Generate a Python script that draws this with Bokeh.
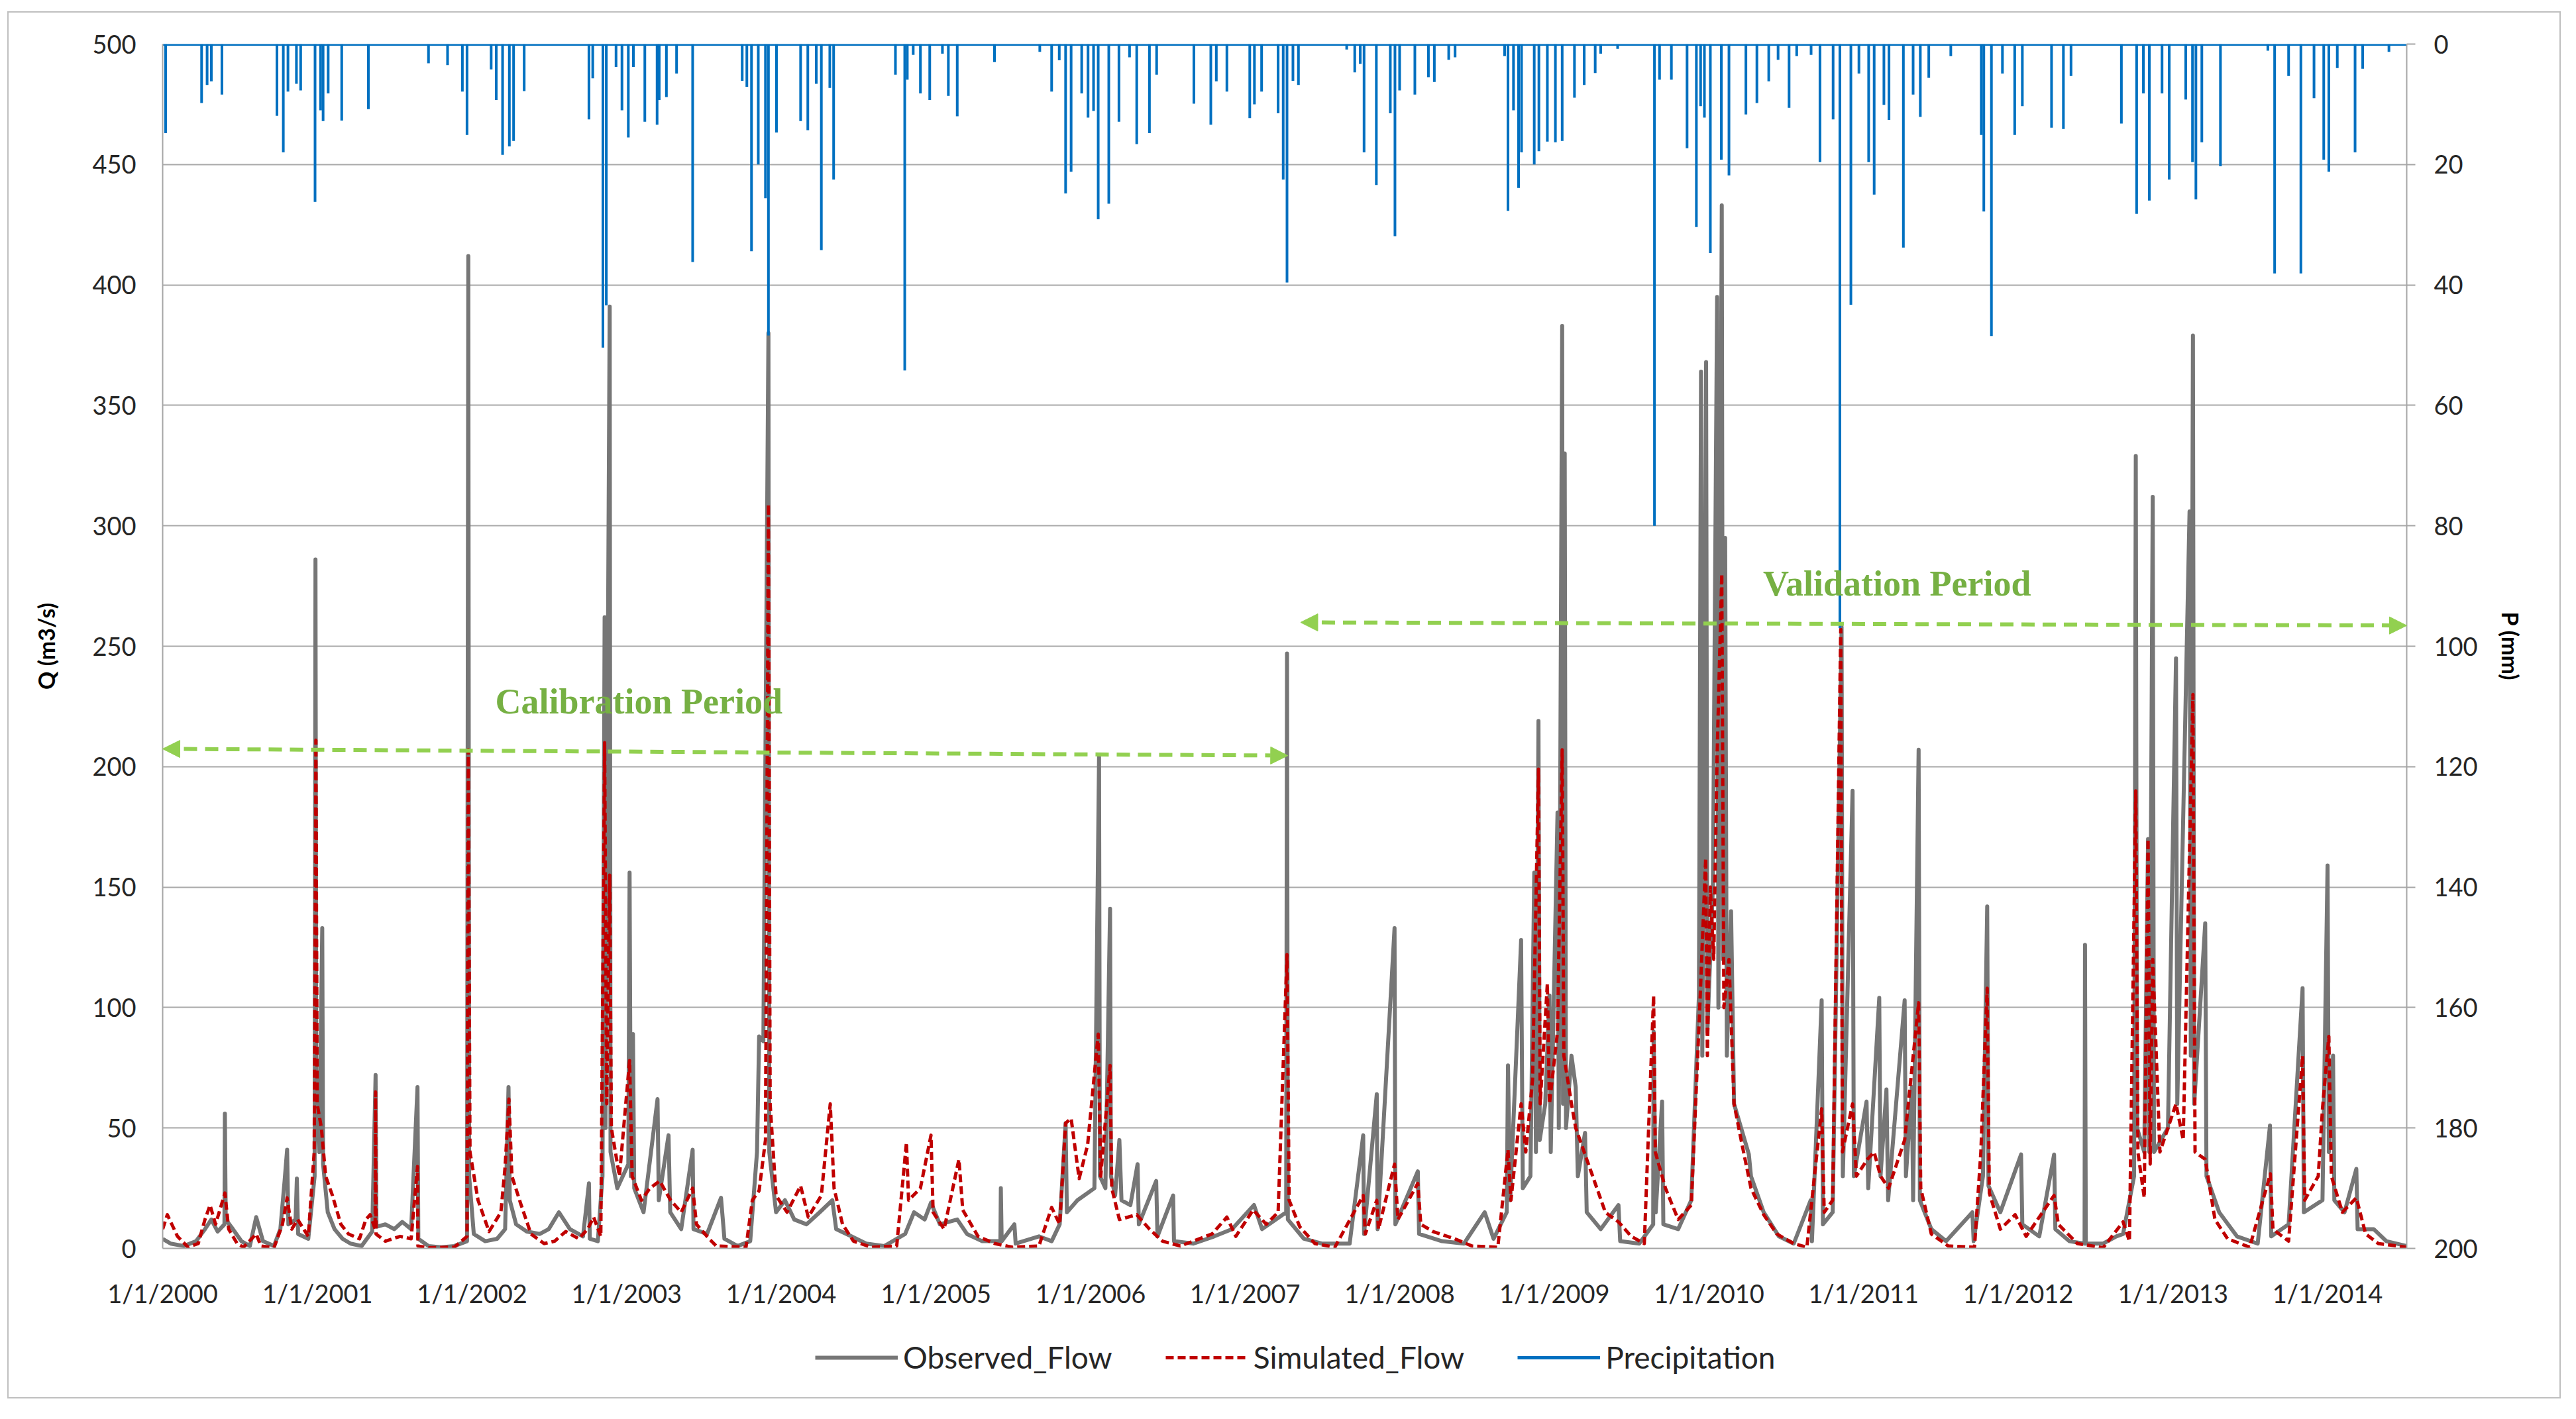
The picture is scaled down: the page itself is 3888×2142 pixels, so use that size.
import pandas as pd
from bokeh.plotting import figure
from bokeh.layouts import column
from bokeh.models import (Range1d, LinearAxis, FixedTicker, Legend, LegendItem,
                          Label, Arrow, NormalHead, ColumnDataSource)
from bokeh.embed import file_html
from bokeh.resources import INLINE

# ---------------- data ----------------
year_labels = ["1/1/2000", "1/1/2001", "1/1/2002", "1/1/2003", "1/1/2004",
               "1/1/2005", "1/1/2006", "1/1/2007", "1/1/2008", "1/1/2009",
               "1/1/2010", "1/1/2011", "1/1/2012", "1/1/2013", "1/1/2014"]
q_ticks = [0, 50, 100, 150, 200, 250, 300, 350, 400, 450, 500]
p_ticks = [0, 20, 40, 60, 80, 100, 120, 140, 160, 180, 200]
series_names = ["Observed_Flow", "Simulated_Flow", "Precipitation"]

observed_flow = [
    ("2000-01-01", 4), ("2000-01-20", 2), ("2000-02-20", 1), ("2000-03-20", 3), ("2000-04-10", 8),
    ("2000-04-25", 12), ("2000-05-10", 7), ("2000-05-26", 10), ("2000-05-27", 56), ("2000-05-29", 12),
    ("2000-06-15", 8), ("2000-07-05", 3), ("2000-07-25", 1), ("2000-08-09", 13), ("2000-08-25", 3),
    ("2000-09-20", 1), ("2000-10-05", 8), ("2000-10-15", 28), ("2000-10-21", 41), ("2000-10-24", 10),
    ("2000-11-10", 12), ("2000-11-13", 29), ("2000-11-16", 6), ("2000-12-10", 4), ("2000-12-25", 30),
    ("2000-12-27", 286), ("2000-12-29", 60), ("2001-01-05", 40), ("2001-01-12", 133), ("2001-01-14", 35),
    ("2001-01-25", 15), ("2001-02-10", 8), ("2001-03-01", 4), ("2001-03-20", 2), ("2001-04-15", 1),
    ("2001-05-10", 7), ("2001-05-18", 72), ("2001-05-20", 9), ("2001-06-10", 10), ("2001-07-01", 8),
    ("2001-07-20", 11), ("2001-08-10", 8), ("2001-08-25", 67), ("2001-08-27", 4), ("2001-09-20", 1),
    ("2001-10-20", 0.5), ("2001-11-20", 1), ("2001-12-20", 3), ("2001-12-23", 412), ("2001-12-25", 30),
    ("2002-01-05", 6), ("2002-02-01", 3), ("2002-03-01", 4), ("2002-03-20", 8), ("2002-03-28", 67),
    ("2002-03-31", 20), ("2002-04-15", 10), ("2002-05-10", 7), ("2002-06-10", 6), ("2002-07-01", 8),
    ("2002-07-25", 15), ("2002-08-20", 8), ("2002-09-20", 5), ("2002-10-04", 27), ("2002-10-06", 4),
    ("2002-10-25", 3), ("2002-11-05", 30), ("2002-11-10", 262), ("2002-11-12", 50), ("2002-11-22", 391),
    ("2002-11-24", 40), ("2002-12-10", 25), ("2003-01-05", 35), ("2003-01-08", 156), ("2003-01-11", 30),
    ("2003-01-16", 89), ("2003-01-19", 25), ("2003-02-10", 15), ("2003-03-15", 62), ("2003-03-18", 20),
    ("2003-04-10", 47), ("2003-04-14", 15), ("2003-05-10", 8), ("2003-06-06", 41), ("2003-06-08", 8),
    ("2003-07-10", 6), ("2003-08-12", 21), ("2003-08-20", 4), ("2003-09-20", 1), ("2003-10-20", 3),
    ("2003-11-05", 40), ("2003-11-10", 88), ("2003-11-20", 86), ("2003-12-02", 380), ("2003-12-04", 40),
    ("2003-12-20", 15), ("2004-01-10", 20), ("2004-02-01", 12), ("2004-03-01", 10), ("2004-04-01", 15),
    ("2004-05-01", 20), ("2004-05-10", 8), ("2004-06-15", 5), ("2004-07-20", 2), ("2004-09-01", 1),
    ("2004-10-20", 6), ("2004-11-10", 15), ("2004-12-05", 12), ("2004-12-20", 19), ("2005-01-10", 10),
    ("2005-02-20", 12), ("2005-03-15", 6), ("2005-04-20", 3), ("2005-06-02", 3), ("2005-06-03", 25),
    ("2005-06-05", 3), ("2005-07-05", 10), ("2005-07-08", 2), ("2005-09-01", 5), ("2005-10-01", 3),
    ("2005-10-20", 10), ("2005-11-03", 52), ("2005-11-06", 15), ("2005-12-01", 20), ("2006-01-10", 25),
    ("2006-01-21", 204), ("2006-01-23", 30), ("2006-02-05", 25), ("2006-02-16", 141), ("2006-02-18", 30),
    ("2006-02-28", 22), ("2006-03-10", 45), ("2006-03-15", 20), ("2006-04-05", 18), ("2006-04-22", 35),
    ("2006-04-25", 10), ("2006-06-05", 28), ("2006-06-08", 5), ("2006-07-15", 22), ("2006-07-17", 3),
    ("2006-09-01", 2), ("2006-10-20", 5), ("2006-12-01", 8), ("2007-01-22", 18), ("2007-02-10", 8),
    ("2007-04-08", 15), ("2007-04-10", 247), ("2007-04-12", 12), ("2007-05-20", 4), ("2007-07-01", 2),
    ("2007-09-05", 2), ("2007-10-07", 47), ("2007-10-09", 6), ("2007-11-08", 64), ("2007-11-10", 8),
    ("2007-12-20", 133), ("2007-12-22", 10), ("2008-02-13", 32), ("2008-02-16", 6), ("2008-04-10", 3),
    ("2008-06-01", 2), ("2008-07-20", 15), ("2008-08-10", 4), ("2008-09-10", 15), ("2008-09-13", 76),
    ("2008-09-18", 20), ("2008-10-14", 128), ("2008-10-18", 25), ("2008-11-05", 30), ("2008-11-14", 156),
    ("2008-11-18", 40), ("2008-11-24", 219), ("2008-11-27", 45), ("2008-12-10", 60), ("2008-12-20", 105),
    ("2008-12-23", 40), ("2009-01-08", 181), ("2009-01-11", 50), ("2009-01-19", 383), ("2009-01-21", 60),
    ("2009-01-25", 330), ("2009-01-28", 50), ("2009-02-10", 80), ("2009-02-20", 67), ("2009-02-25", 30),
    ("2009-03-14", 48), ("2009-03-18", 15), ("2009-04-20", 8), ("2009-06-01", 18), ("2009-06-05", 3),
    ("2009-07-20", 2), ("2009-08-22", 10), ("2009-08-23", 90), ("2009-08-28", 15), ("2009-09-12", 61),
    ("2009-09-15", 10), ("2009-10-20", 8), ("2009-11-20", 20), ("2009-12-08", 105), ("2009-12-13", 364),
    ("2009-12-16", 80), ("2009-12-25", 368), ("2009-12-28", 90), ("2010-01-10", 150), ("2010-01-20", 395),
    ("2010-01-23", 100), ("2010-01-31", 433), ("2010-02-03", 120), ("2010-02-08", 295), ("2010-02-12", 80),
    ("2010-02-22", 140), ("2010-03-01", 60), ("2010-04-05", 39), ("2010-04-10", 30), ("2010-05-10", 15),
    ("2010-06-15", 5), ("2010-07-20", 2), ("2010-08-29", 20), ("2010-09-01", 3), ("2010-09-24", 103),
    ("2010-09-27", 10), ("2010-10-20", 15), ("2010-11-10", 258), ("2010-11-13", 30), ("2010-12-06", 190),
    ("2010-12-09", 30), ("2011-01-08", 61), ("2011-01-12", 25), ("2011-02-07", 104), ("2011-02-10", 30),
    ("2011-02-24", 66), ("2011-02-28", 20), ("2011-04-08", 103), ("2011-04-11", 30), ("2011-04-25", 67),
    ("2011-04-28", 20), ("2011-05-11", 207), ("2011-05-14", 20), ("2011-06-10", 8), ("2011-07-15", 3),
    ("2011-09-15", 15), ("2011-09-18", 3), ("2011-10-10", 30), ("2011-10-20", 142), ("2011-10-23", 26),
    ("2011-11-20", 15), ("2012-01-08", 39), ("2012-01-11", 10), ("2012-02-20", 5), ("2012-03-26", 39),
    ("2012-03-29", 8), ("2012-05-01", 3), ("2012-06-06", 2), ("2012-06-07", 126), ("2012-06-09", 2),
    ("2012-07-20", 2), ("2012-08-20", 5), ("2012-09-05", 6), ("2012-10-01", 30), ("2012-10-05", 329),
    ("2012-10-08", 50), ("2012-10-25", 40), ("2012-11-03", 170), ("2012-11-06", 40), ("2012-11-14", 312),
    ("2012-11-17", 40), ("2012-12-20", 50), ("2013-01-08", 245), ("2013-01-11", 60), ("2013-02-09", 306),
    ("2013-02-12", 80), ("2013-02-17", 379), ("2013-02-20", 60), ("2013-03-18", 135), ("2013-03-21", 30),
    ("2013-04-20", 15), ("2013-06-01", 5), ("2013-07-20", 2), ("2013-08-18", 51), ("2013-08-21", 5),
    ("2013-10-01", 10), ("2013-11-03", 108), ("2013-11-06", 15), ("2013-12-20", 20), ("2014-01-01", 159),
    ("2014-01-04", 40), ("2014-01-14", 80), ("2014-01-17", 20), ("2014-02-10", 15), ("2014-03-10", 33),
    ("2014-03-13", 8), ("2014-04-20", 8), ("2014-05-20", 3), ("2014-07-07", 1),
]

simulated_flow = [
    ("2000-01-01", 8), ("2000-01-12", 14), ("2000-02-05", 5), ("2000-03-01", 0.5), ("2000-03-25", 2),
    ("2000-04-10", 12), ("2000-04-22", 18), ("2000-05-05", 10), ("2000-05-27", 23), ("2000-06-05", 8),
    ("2000-06-25", 2), ("2000-07-10", 0.5), ("2000-08-09", 6), ("2000-08-20", 1), ("2000-09-20", 0.3),
    ("2000-10-10", 10), ("2000-10-21", 21), ("2000-11-01", 8), ("2000-11-15", 12), ("2000-12-10", 5),
    ("2000-12-24", 40), ("2000-12-28", 211), ("2000-12-31", 60), ("2001-01-10", 50), ("2001-01-20", 30),
    ("2001-02-05", 22), ("2001-02-25", 10), ("2001-03-15", 6), ("2001-04-10", 4), ("2001-04-25", 12),
    ("2001-05-05", 14), ("2001-05-17", 8), ("2001-05-18", 65), ("2001-05-19", 6), ("2001-06-10", 3),
    ("2001-07-15", 5), ("2001-08-10", 4), ("2001-08-25", 34), ("2001-08-26", 1), ("2001-09-20", 0.3),
    ("2001-11-20", 0.5), ("2001-12-20", 5), ("2001-12-23", 207), ("2001-12-27", 40), ("2002-01-15", 20),
    ("2002-02-10", 7), ("2002-03-10", 15), ("2002-03-20", 34), ("2002-03-29", 62), ("2002-04-05", 30),
    ("2002-04-25", 19), ("2002-05-20", 6), ("2002-06-20", 2), ("2002-07-15", 3), ("2002-08-10", 7),
    ("2002-09-10", 4), ("2002-10-01", 8), ("2002-10-15", 13), ("2002-11-01", 5), ("2002-11-10", 210),
    ("2002-11-15", 60), ("2002-11-22", 155), ("2002-11-26", 50), ("2002-12-15", 30), ("2003-01-08", 78),
    ("2003-01-14", 30), ("2003-02-05", 20), ("2003-02-25", 25), ("2003-03-20", 28), ("2003-04-15", 20),
    ("2003-05-10", 15), ("2003-06-06", 25), ("2003-06-15", 10), ("2003-07-15", 4), ("2003-08-01", 1),
    ("2003-10-10", 0.5), ("2003-10-25", 20), ("2003-11-10", 24), ("2003-11-25", 45), ("2003-12-02", 309),
    ("2003-12-06", 60), ("2003-12-20", 22), ("2004-01-15", 15), ("2004-02-16", 26), ("2004-03-05", 13),
    ("2004-04-05", 22), ("2004-04-26", 60), ("2004-05-05", 25), ("2004-05-25", 10), ("2004-06-20", 3),
    ("2004-08-01", 0.5), ("2004-09-30", 1), ("2004-10-23", 44), ("2004-10-28", 20), ("2004-11-25", 25),
    ("2004-12-20", 47), ("2004-12-25", 15), ("2005-01-20", 8), ("2005-02-24", 37), ("2005-03-05", 16),
    ("2005-04-10", 5), ("2005-05-20", 2), ("2005-07-01", 0.5), ("2005-09-01", 1), ("2005-10-01", 17),
    ("2005-10-20", 10), ("2005-11-03", 52), ("2005-11-16", 54), ("2005-12-05", 29), ("2005-12-25", 43),
    ("2006-01-19", 89), ("2006-01-25", 30), ("2006-02-16", 76), ("2006-02-20", 25), ("2006-03-10", 12),
    ("2006-04-20", 14), ("2006-05-20", 8), ("2006-06-20", 3), ("2006-08-01", 1), ("2006-10-15", 6),
    ("2006-11-19", 13), ("2006-12-10", 5), ("2007-01-20", 16), ("2007-02-20", 10), ("2007-03-20", 15),
    ("2007-04-10", 122), ("2007-04-15", 20), ("2007-05-10", 9), ("2007-06-15", 2), ("2007-08-01", 0.5),
    ("2007-10-07", 22), ("2007-10-12", 6), ("2007-11-08", 20), ("2007-11-12", 8), ("2007-12-20", 35),
    ("2007-12-28", 12), ("2008-02-13", 27), ("2008-02-20", 10), ("2008-03-20", 7), ("2008-05-10", 4),
    ("2008-06-20", 1), ("2008-08-20", 0.5), ("2008-09-13", 41), ("2008-09-20", 20), ("2008-10-14", 60),
    ("2008-10-25", 40), ("2008-11-10", 70), ("2008-11-24", 199), ("2008-11-28", 60), ("2008-12-15", 110),
    ("2008-12-20", 60), ("2009-01-08", 90), ("2009-01-19", 207), ("2009-01-23", 80), ("2009-02-10", 60),
    ("2009-02-20", 50), ("2009-03-14", 39), ("2009-04-01", 30), ("2009-05-01", 15), ("2009-06-01", 11),
    ("2009-07-01", 5), ("2009-08-01", 2), ("2009-08-23", 105), ("2009-08-27", 40), ("2009-09-20", 25),
    ("2009-10-20", 12), ("2009-11-20", 18), ("2009-12-10", 100), ("2009-12-24", 162), ("2009-12-28", 80),
    ("2010-01-04", 150), ("2010-01-12", 120), ("2010-01-20", 205), ("2010-01-31", 280), ("2010-02-05", 100),
    ("2010-02-17", 120), ("2010-03-01", 60), ("2010-03-20", 43), ("2010-04-10", 25), ("2010-05-10", 14),
    ("2010-06-10", 6), ("2010-07-20", 2), ("2010-08-20", 0.5), ("2010-09-24", 58), ("2010-09-30", 15),
    ("2010-10-20", 20), ("2010-11-08", 257), ("2010-11-12", 40), ("2010-12-06", 60), ("2010-12-15", 30),
    ("2011-01-10", 37), ("2011-01-26", 40), ("2011-02-10", 30), ("2011-03-01", 25), ("2011-04-08", 45),
    ("2011-05-11", 102), ("2011-05-16", 25), ("2011-06-10", 6), ("2011-07-20", 1), ("2011-09-20", 0.5),
    ("2011-10-05", 40), ("2011-10-20", 108), ("2011-10-25", 23), ("2011-11-20", 8), ("2011-12-25", 14),
    ("2012-01-20", 5), ("2012-03-26", 22), ("2012-04-05", 10), ("2012-05-20", 2), ("2012-07-20", 0.3),
    ("2012-09-05", 11), ("2012-09-20", 3), ("2012-10-05", 190), ("2012-10-10", 40), ("2012-10-25", 21),
    ("2012-11-03", 170), ("2012-11-08", 35), ("2012-11-14", 120), ("2012-12-01", 40), ("2013-01-08", 60),
    ("2013-01-25", 45), ("2013-02-17", 230), ("2013-02-22", 40), ("2013-03-18", 37), ("2013-04-10", 12),
    ("2013-05-10", 4), ("2013-07-01", 0.5), ("2013-08-19", 31), ("2013-08-25", 8), ("2013-10-01", 3),
    ("2013-11-03", 80), ("2013-11-08", 20), ("2013-12-10", 30), ("2013-12-20", 58), ("2014-01-04", 88),
    ("2014-01-10", 30), ("2014-02-05", 15), ("2014-03-10", 21), ("2014-04-01", 6), ("2014-05-01", 2),
    ("2014-07-07", 0.5),
]

precipitation = [
    ("2000-01-08", 14.8), ("2000-04-02", 9.8), ("2000-04-15", 6.8), ("2000-04-25", 6.2), ("2000-05-20", 8.4),
    ("2000-09-27", 11.9), ("2000-10-12", 18.0), ("2000-10-23", 7.9), ("2000-11-12", 6.6), ("2000-11-22", 7.7),
    ("2000-12-26", 26.2), ("2001-01-08", 11.0), ("2001-01-14", 12.8), ("2001-01-26", 8.2), ("2001-02-27", 12.7),
    ("2001-05-01", 10.8), ("2001-09-20", 3.2), ("2001-11-04", 3.5), ("2001-12-09", 7.9), ("2001-12-20", 15.1),
    ("2002-02-15", 4.2), ("2002-02-27", 9.3), ("2002-03-14", 18.4), ("2002-03-30", 17.0), ("2002-04-09", 16.1),
    ("2002-05-04", 7.8), ("2002-10-04", 12.5), ("2002-10-13", 5.7), ("2002-11-06", 50.4), ("2002-11-14", 43.4),
    ("2002-12-07", 3.8), ("2002-12-21", 11.0), ("2003-01-05", 15.5), ("2003-01-17", 3.8), ("2003-02-13", 12.9),
    ("2003-03-14", 13.4), ("2003-03-19", 9.3), ("2003-04-05", 8.8), ("2003-04-29", 4.9), ("2003-06-06", 36.2),
    ("2003-10-01", 6.1), ("2003-10-12", 7.1), ("2003-10-23", 34.4), ("2003-11-08", 20.0), ("2003-11-25", 25.6),
    ("2003-12-02", 48.4), ("2003-12-21", 14.7), ("2004-02-16", 12.8), ("2004-03-04", 14.3), ("2004-03-24", 6.6),
    ("2004-04-05", 34.2), ("2004-04-25", 7.3), ("2004-05-04", 22.5), ("2004-09-27", 5.1), ("2004-10-19", 54.2),
    ("2004-10-25", 5.9), ("2004-11-08", 1.8), ("2004-11-25", 8.2), ("2004-12-17", 9.3), ("2005-01-16", 1.6),
    ("2005-01-30", 8.6), ("2005-02-20", 12.0), ("2005-05-19", 3.0), ("2005-09-03", 1.3), ("2005-10-01", 7.9),
    ("2005-10-19", 2.7), ("2005-11-03", 24.8), ("2005-11-16", 21.2), ("2005-12-11", 8.2), ("2005-12-26", 12.2),
    ("2006-01-08", 11.1), ("2006-01-19", 29.1), ("2006-02-13", 26.5), ("2006-03-09", 12.9), ("2006-04-03", 2.2),
    ("2006-04-20", 16.6), ("2006-05-20", 14.8), ("2006-06-06", 5.1), ("2006-09-02", 9.9), ("2006-10-12", 13.4),
    ("2006-10-25", 6.2), ("2006-11-19", 7.9), ("2007-01-12", 12.3), ("2007-01-23", 10.0), ("2007-02-09", 7.9),
    ("2007-03-20", 11.5), ("2007-04-01", 22.5), ("2007-04-10", 39.6), ("2007-04-24", 6.1), ("2007-05-07", 6.8),
    ("2007-08-29", 0.9), ("2007-09-17", 4.7), ("2007-09-30", 3.3), ("2007-10-09", 18.0), ("2007-11-07", 23.4),
    ("2007-12-10", 11.5), ("2007-12-21", 31.9), ("2008-01-01", 7.7), ("2008-02-06", 8.4), ("2008-03-09", 5.5),
    ("2008-03-23", 6.3), ("2008-04-26", 2.6), ("2008-05-11", 2.2), ("2008-09-05", 2.0), ("2008-09-13", 27.7),
    ("2008-09-26", 11.0), ("2008-10-08", 23.9), ("2008-10-15", 18.0), ("2008-11-14", 20.0), ("2008-11-25", 17.8),
    ("2008-12-15", 16.2), ("2009-01-03", 16.3), ("2009-01-19", 16.1), ("2009-02-17", 8.9), ("2009-03-12", 6.8),
    ("2009-04-07", 4.8), ("2009-04-20", 1.6), ("2009-05-30", 0.8), ("2009-08-25", 80.0), ("2009-09-06", 5.9),
    ("2009-10-04", 5.9), ("2009-11-10", 17.3), ("2009-12-02", 30.4), ("2009-12-12", 10.3), ("2009-12-21", 12.2),
    ("2010-01-04", 34.7), ("2010-01-30", 19.2), ("2010-02-17", 21.8), ("2010-03-29", 11.7), ("2010-04-24", 9.8),
    ("2010-05-22", 6.2), ("2010-06-13", 2.6), ("2010-07-09", 10.6), ("2010-07-27", 2.0), ("2010-08-30", 1.8),
    ("2010-09-20", 19.6), ("2010-10-21", 12.5), ("2010-11-06", 97.0), ("2010-12-02", 43.3), ("2010-12-21", 4.9),
    ("2011-01-13", 19.6), ("2011-01-26", 25.0), ("2011-02-18", 10.1), ("2011-03-02", 12.6), ("2011-04-05", 33.8),
    ("2011-04-28", 8.4), ("2011-05-15", 12.1), ("2011-06-04", 5.6), ("2011-07-26", 2.0), ("2011-10-06", 15.1),
    ("2011-10-12", 27.8), ("2011-10-30", 48.5), ("2011-11-25", 4.9), ("2011-12-24", 15.1), ("2012-01-11", 10.3),
    ("2012-03-20", 13.9), ("2012-04-17", 14.1), ("2012-05-05", 5.3), ("2012-09-01", 13.2), ("2012-10-07", 28.2),
    ("2012-10-23", 8.2), ("2012-11-06", 26.0), ("2012-12-06", 8.2), ("2012-12-23", 22.5), ("2013-01-31", 9.2),
    ("2013-02-16", 19.6), ("2013-02-24", 25.8), ("2013-03-10", 16.3), ("2013-04-23", 20.3), ("2013-08-13", 1.1),
    ("2013-08-29", 38.1), ("2013-10-01", 5.3), ("2013-10-30", 38.1), ("2013-11-30", 9.0), ("2013-12-23", 19.2),
    ("2014-01-04", 21.2), ("2014-01-24", 4.0), ("2014-03-07", 18.0), ("2014-03-25", 4.1), ("2014-05-26", 1.3),
]

calibration_arrow = [("2000-01-01", 207.4), ("2007-04-12", 204.6)]
validation_arrow = [("2007-05-12", 259.9), ("2014-07-07", 258.6)]
calibration_label = ("Calibration Period", "2003-01-30", 227)
validation_label = ("Validation Period", "2011-03-21", 276)

# ---------------- styling ----------------
GRAY = "#767676"
RED = "#C00000"
BLUE = "#0070C0"
GREEN_ARROW = "#92D050"
GREEN_TEXT = "#76B043"
GRID = "#A9A9A9"
AXIS = "#A6A6A6"
FONT = "Lato"


def ms(d):
    return pd.Timestamp(d).value / 1e6


obs_src = ColumnDataSource(dict(x=pd.to_datetime([d for d, _ in observed_flow]),
                                y=[v for _, v in observed_flow]))
sim_src = ColumnDataSource(dict(x=pd.to_datetime([d for d, _ in simulated_flow]),
                                y=[v for _, v in simulated_flow]))
pr_x = pd.to_datetime([d for d, _ in precipitation])
pr_src = ColumnDataSource(dict(x=pr_x, y0=[0] * len(precipitation),
                               y1=[v for _, v in precipitation]))

x_start = obs_src.data["x"].min()
x_end = obs_src.data["x"].max()
base_src = ColumnDataSource(dict(x=[x_start, x_end], y=[0, 0]))

p = figure(frame_width=3387, frame_height=1818, x_axis_type="datetime",
           x_range=Range1d(x_start, x_end), y_range=Range1d(0, 500),
           output_backend="svg", toolbar_location=None,
           min_border_left=232, min_border_right=231,
           min_border_top=47, min_border_bottom=110)
p.outline_line_color = None
p.background_fill_color = "white"
p.border_fill_color = "white"

# grid
p.xgrid.grid_line_color = None
p.ygrid.grid_line_color = GRID
p.ygrid.grid_line_width = 2
p.ygrid.ticker = FixedTicker(ticks=q_ticks)

# x axis
xa = p.xaxis[0]
year_ms = [int(ms(pd.to_datetime(s, format="%m/%d/%Y"))) for s in year_labels]
xa.ticker = FixedTicker(ticks=year_ms)
xa.major_label_overrides = {t: s for t, s in zip(year_ms, year_labels)}
xa.major_tick_line_color = None
xa.minor_tick_line_color = None
xa.axis_line_color = AXIS
xa.axis_line_width = 2
xa.major_label_text_font = FONT
xa.major_label_text_font_size = "38px"
xa.major_label_text_color = "#262626"
xa.major_label_standoff = 38

# left y axis
ya = p.yaxis[0]
ya.ticker = FixedTicker(ticks=q_ticks)
ya.major_tick_line_color = None
ya.minor_tick_line_color = None
ya.axis_line_color = AXIS
ya.axis_line_width = 2
ya.major_label_text_font = FONT
ya.major_label_text_font_size = "38px"
ya.major_label_text_color = "#262626"
ya.major_label_standoff = 34
ya.axis_label = "Q (m3/s)"
ya.axis_label_text_font = FONT
ya.axis_label_text_font_size = "34px"
ya.axis_label_text_font_style = "bold"
ya.axis_label_text_color = "#000000"
ya.axis_label_standoff = 46

# right y axis (precipitation, inverted)
p.extra_y_ranges = {"p": Range1d(200, 0)}
ra = LinearAxis(y_range_name="p", ticker=FixedTicker(ticks=p_ticks))
ra.major_tick_out = 13
ra.major_tick_in = 0
ra.major_tick_line_color = AXIS
ra.major_tick_line_width = 2
ra.minor_tick_line_color = None
ra.axis_line_color = AXIS
ra.axis_line_width = 2
ra.major_label_text_font = FONT
ra.major_label_text_font_size = "38px"
ra.major_label_text_color = "#262626"
ra.major_label_standoff = 28
ra.axis_label = "P (mm)"
ra.axis_label_text_font = FONT
ra.axis_label_text_font_size = "34px"
ra.axis_label_text_font_style = "bold"
ra.axis_label_text_color = "#000000"
ra.axis_label_standoff = 26
p.add_layout(ra, "right")

# series
p.line("x", "y", source=obs_src, line_color=GRAY, line_width=6, line_join="round")
p.line("x", "y", source=sim_src, line_color=RED, line_width=5,
       line_dash="12 6", line_join="round")
p.line("x", "y", source=base_src, y_range_name="p", line_color=BLUE, line_width=5)
p.segment(x0="x", y0="y0", x1="x", y1="y1", source=pr_src,
          y_range_name="p", line_color=BLUE, line_width=4)

# arrows
for pts in (calibration_arrow, validation_arrow):
    (d0, v0), (d1, v1) = pts
    p.add_layout(Arrow(x_start=ms(d0), y_start=v0, x_end=ms(d1), y_end=v1,
                       line_color=GREEN_ARROW, line_width=6, line_dash="20 12",
                       start=NormalHead(size=26, fill_color=GREEN_ARROW, line_color=GREEN_ARROW),
                       end=NormalHead(size=26, fill_color=GREEN_ARROW, line_color=GREEN_ARROW)))

for txt, d, v in (calibration_label, validation_label):
    p.add_layout(Label(x=ms(d), y=v, text=txt, text_font="Liberation Serif",
                       text_font_size="54px", text_font_style="bold",
                       text_color=GREEN_TEXT, text_align="center",
                       text_baseline="middle"))

# ---------------- legend strip under the chart ----------------
lf = figure(width=3850, height=115, x_range=Range1d(0, 1), y_range=Range1d(0, 1),
            output_backend="svg", toolbar_location=None, min_border=0,
            x_axis_location=None, y_axis_location=None)
lf.grid.visible = False
lf.outline_line_color = None
lf.background_fill_color = "white"
lf.border_fill_color = "white"
# legend-only renderers: their points lie outside the visible range
hidden = dict(x=[-5, -4], y=[-5, -4])
l_obs = lf.line("x", "y", source=ColumnDataSource(hidden), line_color=GRAY, line_width=6)
l_sim = lf.line("x", "y", source=ColumnDataSource(hidden), line_color=RED, line_width=5,
                line_dash="12 6")
l_pr = lf.line("x", "y", source=ColumnDataSource(hidden), line_color=BLUE, line_width=5)

legend = Legend(items=[LegendItem(label=series_names[0], renderers=[l_obs]),
                       LegendItem(label=series_names[1], renderers=[l_sim]),
                       LegendItem(label=series_names[2], renderers=[l_pr])],
                orientation="horizontal", location=(985, 33),
                label_text_font=FONT, label_text_font_size="46px",
                label_text_color="#262626", glyph_width=125, glyph_height=40,
                label_standoff=8, spacing=80, border_line_color=None,
                background_fill_alpha=0, margin=0, padding=4)
lf.add_layout(legend, "center")

layout = column(p, lf, spacing=0)
layout.styles = {"margin-left": "11px", "margin-top": "17px",
                 "border": "2px solid #BFBFBF"}

open("out.html", "w").write(file_html(layout, INLINE))
